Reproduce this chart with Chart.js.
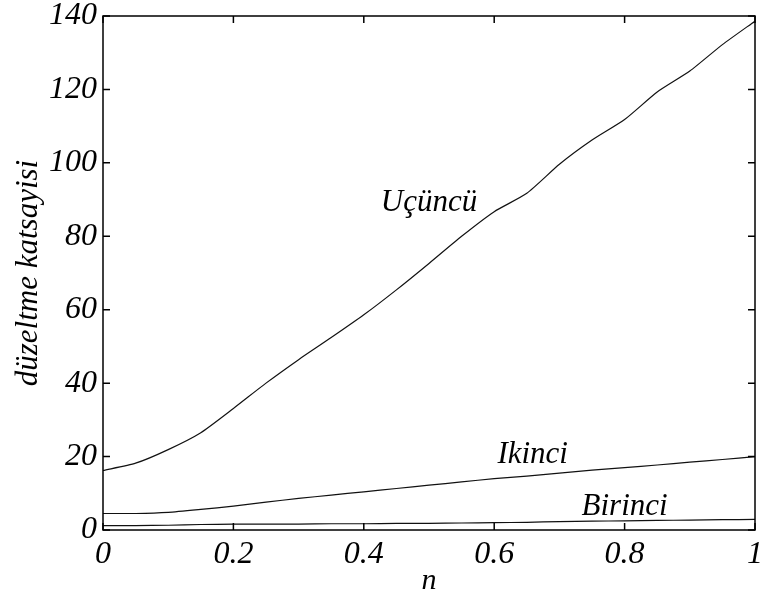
<!DOCTYPE html>
<html>
<head>
<meta charset="utf-8">
<script src="https://cdn.jsdelivr.net/npm/chart.js@4.4.1/dist/chart.umd.min.js"></script>
<style>
  html, body { margin: 0; padding: 0; background: #fff; }
  #wrap { width: 761px; height: 592px; }
</style>
</head>
<body>
<div id="wrap"><canvas id="chart"></canvas></div>
<script>
// n values (x) and the three correction coefficient curves
const nValues = [0, 0.05, 0.1, 0.15, 0.2, 0.25, 0.3, 0.35, 0.4, 0.45, 0.5,
                 0.55, 0.6, 0.65, 0.7, 0.75, 0.8, 0.85, 0.9, 0.95, 1.0];
const ucuncu = [16.2, 18.2, 21.9, 26.5, 33.1, 40.0, 46.4, 52.4, 58.6, 65.4, 72.6,
                80.0, 86.7, 91.7, 99.6, 106.2, 111.8, 119.3, 125.0, 132.2, 138.6];
const ikinci = [4.5, 4.5, 4.8, 5.6, 6.5, 7.6, 8.6, 9.5, 10.4, 11.3, 12.2,
                13.1, 14.0, 14.7, 15.5, 16.3, 17.0, 17.7, 18.5, 19.2, 20.0];
const birinci = [1.2, 1.2, 1.3, 1.5, 1.6, 1.6, 1.6, 1.7, 1.7, 1.8, 1.8,
                 1.9, 2.0, 2.1, 2.3, 2.4, 2.5, 2.6, 2.7, 2.8, 2.9];
const xTicks = [0, 0.2, 0.4, 0.6, 0.8, 1];
const yTicks = [0, 20, 40, 60, 80, 100, 120, 140];

// curve labels placed in data coordinates
const curveLabels = [
    { text: 'Uçüncü', n: 0.500, v: 89.0 },
    { text: 'Ikinci', n: 0.659, v: 20.4 },
    { text: 'Birinci', n: 0.800, v: 6.3 }
];

const serif = '"Liberation Serif", "Times New Roman", serif';

function toPoints(ys) {
    return nValues.map((x, i) => ({ x: x, y: ys[i] }));
}

function fmtX(v) {
    if (v === 0) return '0';
    if (v === 1) return '1';
    return v.toFixed(1);
}

// box + inward ticks on all four sides, plus the curve labels
const framePlugin = {
    id: 'frame',
    afterDatasetsDraw(chart) {
        const ctx = chart.ctx;
        const a = chart.chartArea;
        const xs = chart.scales.x;
        const ys = chart.scales.y;
        const tl = 7;
        ctx.save();
        ctx.strokeStyle = '#000';
        ctx.lineWidth = 1.5;
        ctx.strokeRect(a.left, a.top, a.right - a.left, a.bottom - a.top);
        ctx.beginPath();
        xTicks.forEach(t => {
            const px = xs.getPixelForValue(t);
            ctx.moveTo(px, a.bottom); ctx.lineTo(px, a.bottom - tl);
            ctx.moveTo(px, a.top); ctx.lineTo(px, a.top + tl);
        });
        yTicks.forEach(t => {
            const py = ys.getPixelForValue(t);
            ctx.moveTo(a.left, py); ctx.lineTo(a.left + tl, py);
            ctx.moveTo(a.right, py); ctx.lineTo(a.right - tl, py);
        });
        ctx.stroke();

        ctx.fillStyle = '#000';
        ctx.font = 'italic 31px ' + serif;
        ctx.textAlign = 'center';
        ctx.textBaseline = 'middle';
        curveLabels.forEach(l => {
            ctx.fillText(l.text, xs.getPixelForValue(l.n), ys.getPixelForValue(l.v));
        });
        ctx.restore();
    }
};

const lineStyle = {
    borderColor: '#111',
    borderWidth: 1.2,
    pointRadius: 0,
    fill: false,
    tension: 0.2
};

new Chart(document.getElementById('chart'), {
    type: 'line',
    data: {
        datasets: [
            Object.assign({ label: 'Birinci', data: toPoints(birinci) }, lineStyle),
            Object.assign({ label: 'Ikinci', data: toPoints(ikinci) }, lineStyle),
            Object.assign({ label: 'Uçüncü', data: toPoints(ucuncu) }, lineStyle)
        ]
    },
    options: {
        responsive: true,
        maintainAspectRatio: false,
        animation: false,
        events: [],
        layout: { padding: { top: 16, right: 6, left: 0, bottom: 0 } },
        plugins: {
            legend: { display: false },
            tooltip: { enabled: false }
        },
        scales: {
            x: {
                type: 'linear',
                min: 0,
                max: 1,
                afterFit(scale) {
                    scale.height = 62;
                    scale.paddingLeft = 0;
                    scale.paddingRight = 0;
                },
                afterBuildTicks(scale) { scale.ticks = xTicks.map(v => ({ value: v })); },
                grid: { display: false, drawTicks: false },
                border: { display: false },
                ticks: {
                    color: '#000',
                    padding: 5,
                    maxRotation: 0,
                    font: { family: serif, size: 32, style: 'italic' },
                    callback: v => fmtX(v)
                },
                title: {
                    display: true,
                    text: 'n',
                    color: '#000',
                    padding: { top: 0, bottom: -7 },
                    font: { family: serif, size: 30, style: 'italic' }
                }
            },
            y: {
                min: 0,
                max: 140,
                afterFit(scale) {
                    scale.width = 103;
                    scale.paddingTop = 0;
                    scale.paddingBottom = 0;
                },
                afterBuildTicks(scale) { scale.ticks = yTicks.map(v => ({ value: v })); },
                grid: { display: false, drawTicks: false },
                border: { display: false },
                ticks: {
                    color: '#000',
                    padding: 6,
                    font: { family: serif, size: 32, style: 'italic' }
                },
                title: {
                    display: true,
                    text: 'düzeltme katsayisi',
                    color: '#000',
                    padding: { top: 10, bottom: 0 },
                    font: { family: serif, size: 31, style: 'italic' }
                }
            }
        }
    },
    plugins: [framePlugin]
});
</script>
</body>
</html>
